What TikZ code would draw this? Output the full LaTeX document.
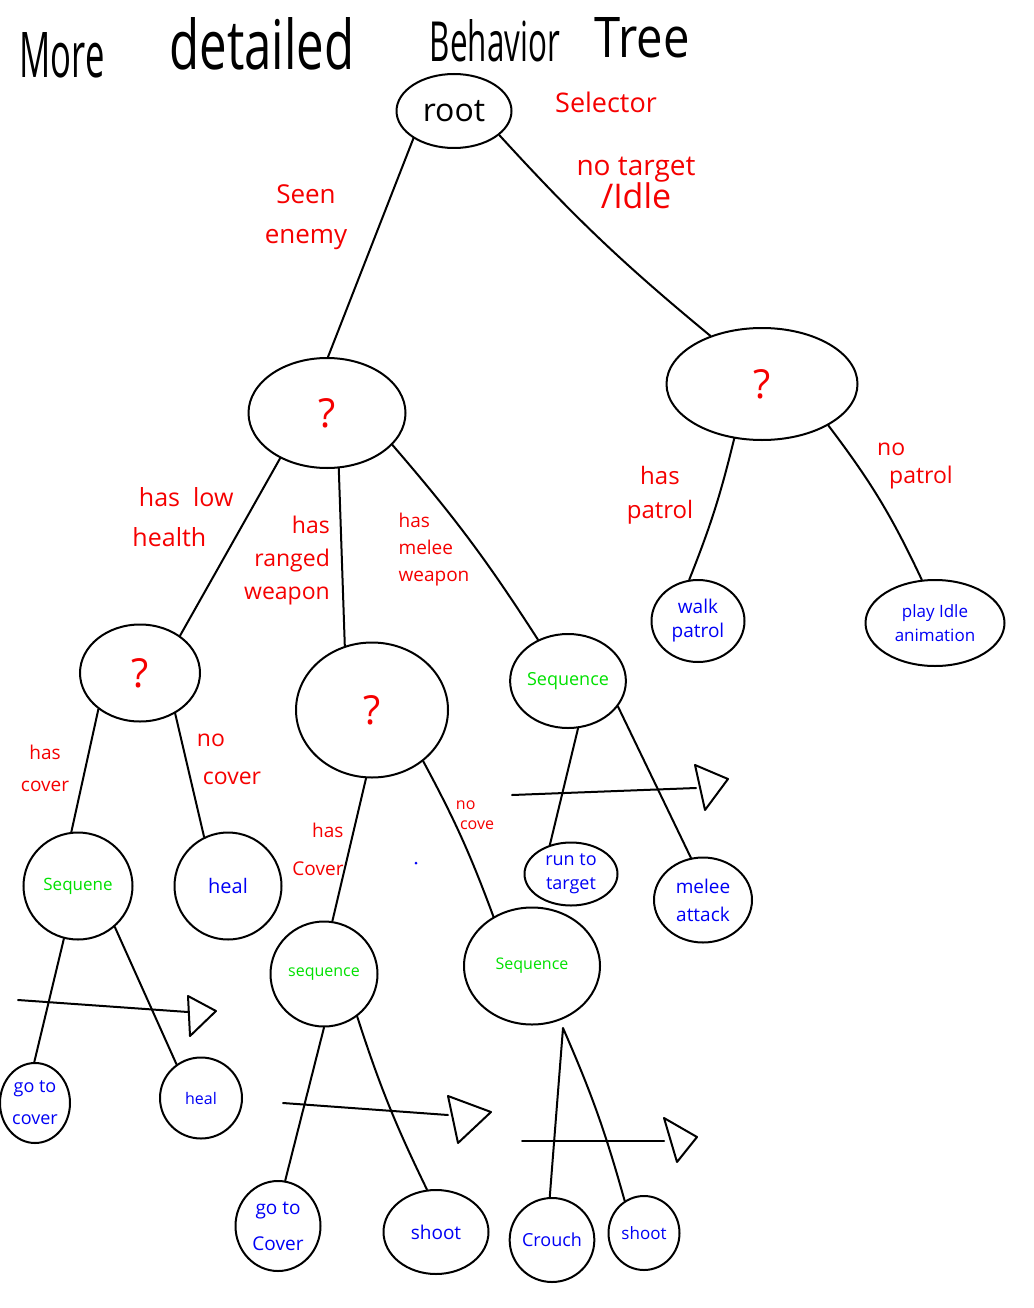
\documentclass[tikz,border=0pt]{standalone}
\usepackage{fontspec}
\setmainfont{Open Sans}
\usetikzlibrary{shapes.geometric}
\definecolor{seqgreen}{RGB}{0,225,0}
\definecolor{actblue}{RGB}{0,0,245}
\definecolor{labred}{RGB}{245,0,0}
\newcommand{\fsz}[2]{\fontsize{#1}{#2}\selectfont}
\begin{document}
\begin{tikzpicture}[x=1pt,y=-1pt,
  bt/.style={draw,ellipse,line width=2pt,inner sep=0pt,align=center},
  edge/.style={line width=2pt,line cap=round},
  title/.style={inner sep=0pt,anchor=base},
  lab/.style={text=labred,align=left,inner sep=0pt},
  act/.style={text=actblue},
  seq/.style={text=seqgreen},
  qm/.style={text=labred,font=\fsz{40}{40}}]
\useasboundingbox (0,0) rectangle (1033,1308);
\fill[white] (0,0) rectangle (1033,1308);

% title
\node[title] (t1) at (62,78) {\resizebox{85pt}{45pt}{More}};
\node[title] (t2) at (262,70) {\resizebox{185pt}{52pt}{detailed}};
\node[title] (t3) at (495,62) {\resizebox{130pt}{42pt}{Behavior}};
\node[title] (t4) at (642,58) {\resizebox{95pt}{40pt}{Tree}};

% nodes
\node[bt,minimum width=115pt,minimum height=74pt,font=\fsz{32}{32}] (root) at (454,111) {root};
\node[bt,qm,minimum width=157pt,minimum height=110pt] (lq) at (327,413) {?};
\node[bt,qm,minimum width=191pt,minimum height=112pt] (rq) at (762,384) {?};
\node[bt,qm,minimum width=120pt,minimum height=97pt] (lowq) at (140,673) {?};
\node[bt,qm,minimum width=152pt,minimum height=135pt] (midq) at (372,710) {?};
\node[bt,seq,minimum width=108pt,minimum height=94pt,font=\fsz{18}{20}] (seqmel) at (568,681) {Sequence};
\node[bt,act,minimum width=93pt,minimum height=82pt,font=\fsz{19}{24}] (walk) at (698,621) {walk\\patrol};
\node[bt,act,minimum width=139pt,minimum height=86pt,font=\fsz{17}{24}] (idle) at (935,623) {play Idle\\animation};
\node[bt,seq,minimum width=109pt,minimum height=107pt,font=\fsz{17}{20}] (seql) at (78,886) {Sequene};
\node[bt,act,minimum width=107pt,minimum height=107pt,font=\fsz{20}{20}] (heala) at (228,886) {heal};
\node[bt,act,minimum width=93pt,minimum height=63pt,font=\fsz{18}{24}] (run) at (571,874) {run to\\target};
\node[bt,act,minimum width=98pt,minimum height=85pt,font=\fsz{19}{28}] (melee) at (703,900) {melee\\attack};
\node[bt,seq,minimum width=107pt,minimum height=105pt,font=\fsz{16}{20}] (seqm) at (324,974) {sequence};
\node[bt,seq,minimum width=136pt,minimum height=117pt,font=\fsz{16}{20}] (seqr) at (532,966) {Sequence};
\node[bt,act,minimum width=70pt,minimum height=80pt,font=\fsz{18}{32}] (gol) at (35,1103) {go to\\cover};
\node[bt,act,minimum width=82pt,minimum height=81pt,font=\fsz{16}{20}] (healb) at (201,1098) {heal};
\node[bt,act,minimum width=85pt,minimum height=90pt,font=\fsz{19}{36}] (gom) at (278,1226) {go to\\Cover};
\node[bt,act,minimum width=105pt,minimum height=84pt,font=\fsz{19}{20}] (shoota) at (436,1232) {shoot};
\node[bt,act,minimum width=76pt,minimum height=84pt,font=\fsz{18}{20}] (crouch) at (552,1240) {Crouch};
\node[bt,act,minimum width=71pt,minimum height=74pt,font=\fsz{17}{20}] (shootb) at (644,1233) {shoot};

% labels
\node[lab,font=\fsz{27}{30}] (l1) at (606,102) {Selector};
\node[lab,font=\fsz{26}{40},align=center] (l2) at (306,217) {Seen\\enemy};
\node[lab,align=center] (l3) at (636,183) {{\fsz{28}{35}no target}\\{\fsz{34}{35}/Idle}};
\node[lab,font=\fsz{25}{40}] (l4) at (183,517) {\ has \ low\\health};
\node[lab,font=\fsz{23}{33},align=right] (l5) at (287,561) {has\\ranged\\weapon};
\node[lab,font=\fsz{19}{27},align=left] (l6) at (434,550) {has\\melee\\weapon};
\node[lab,font=\fsz{24}{34},align=center] (l7) at (660,495) {has\\patrol};
\node[lab,font=\fsz{23}{28}] (l8) at (915,466) {no\\\ \ patrol};
\node[lab,font=\fsz{19}{32},align=center] (l9) at (45,768) {has\\cover};
\node[lab,font=\fsz{23}{38}] (l10) at (229,759) {no\\\ cover};
\node[lab,font=\fsz{19}{38},align=right] (l11) at (318,849) {has\\Cover};
\node[lab,font=\fsz{16}{20}] (l12) at (475,815) {no\\\ cove};
\fill[actblue] (416,863) circle (1.5);

% edges
\draw[edge] (root.214) -- (lq.89);
\draw[edge] (root.332) to[bend right=4] (rq.137);
\draw[edge] (lq.224) -- (lowq.43);
\draw[edge] (lq.282) -- (midq.113);
\draw[edge] (lq.334) to[bend left=4] (seqmel.126);
\draw[edge] (rq.243) to[bend left=4] (walk.102);
\draw[edge] (rq.328) to[bend left=6] (idle.107);
\draw[edge] (lowq.221) -- (seql.97);
\draw[edge] (lowq.311) -- (heala.116);
\draw[edge] (midq.265) -- (seqm.81);
\draw[edge] (midq.315) to[bend left=4] (seqr.128);
\draw[edge] (seqmel.282) -- (run.126);
\draw[edge] (seqmel.333) -- (melee.106);
\draw[edge] (seql.255) -- (gol.91);
\draw[edge] (seql.312) -- (healb.126);
\draw[edge] (seqm.270) -- (gom.81);
\draw[edge] (seqm.308) to[bend right=4] (shoota.102);
\coordinate (apx) at (563,1028);
\draw[edge,line join=round] (crouch.93) -- (apx) to[bend left=4] (shootb.121);

% sequence direction arrows
\draw[edge] (18,1000) -- (188,1012);
\draw[edge,line join=round] (188,996) -- (216,1011) -- (190,1036) -- cycle;
\draw[edge] (283,1103) -- (448,1115);
\draw[edge,line join=round] (448,1096) -- (491,1112) -- (458,1143) -- cycle;
\draw[edge] (522,1141) -- (664,1141);
\draw[edge,line join=round] (664,1118) -- (697,1137) -- (677,1162) -- cycle;
\draw[edge] (512,795) -- (696,788);
\draw[edge,line join=round] (695,765) -- (728,779) -- (705,810) -- cycle;
\end{tikzpicture}
\end{document}
